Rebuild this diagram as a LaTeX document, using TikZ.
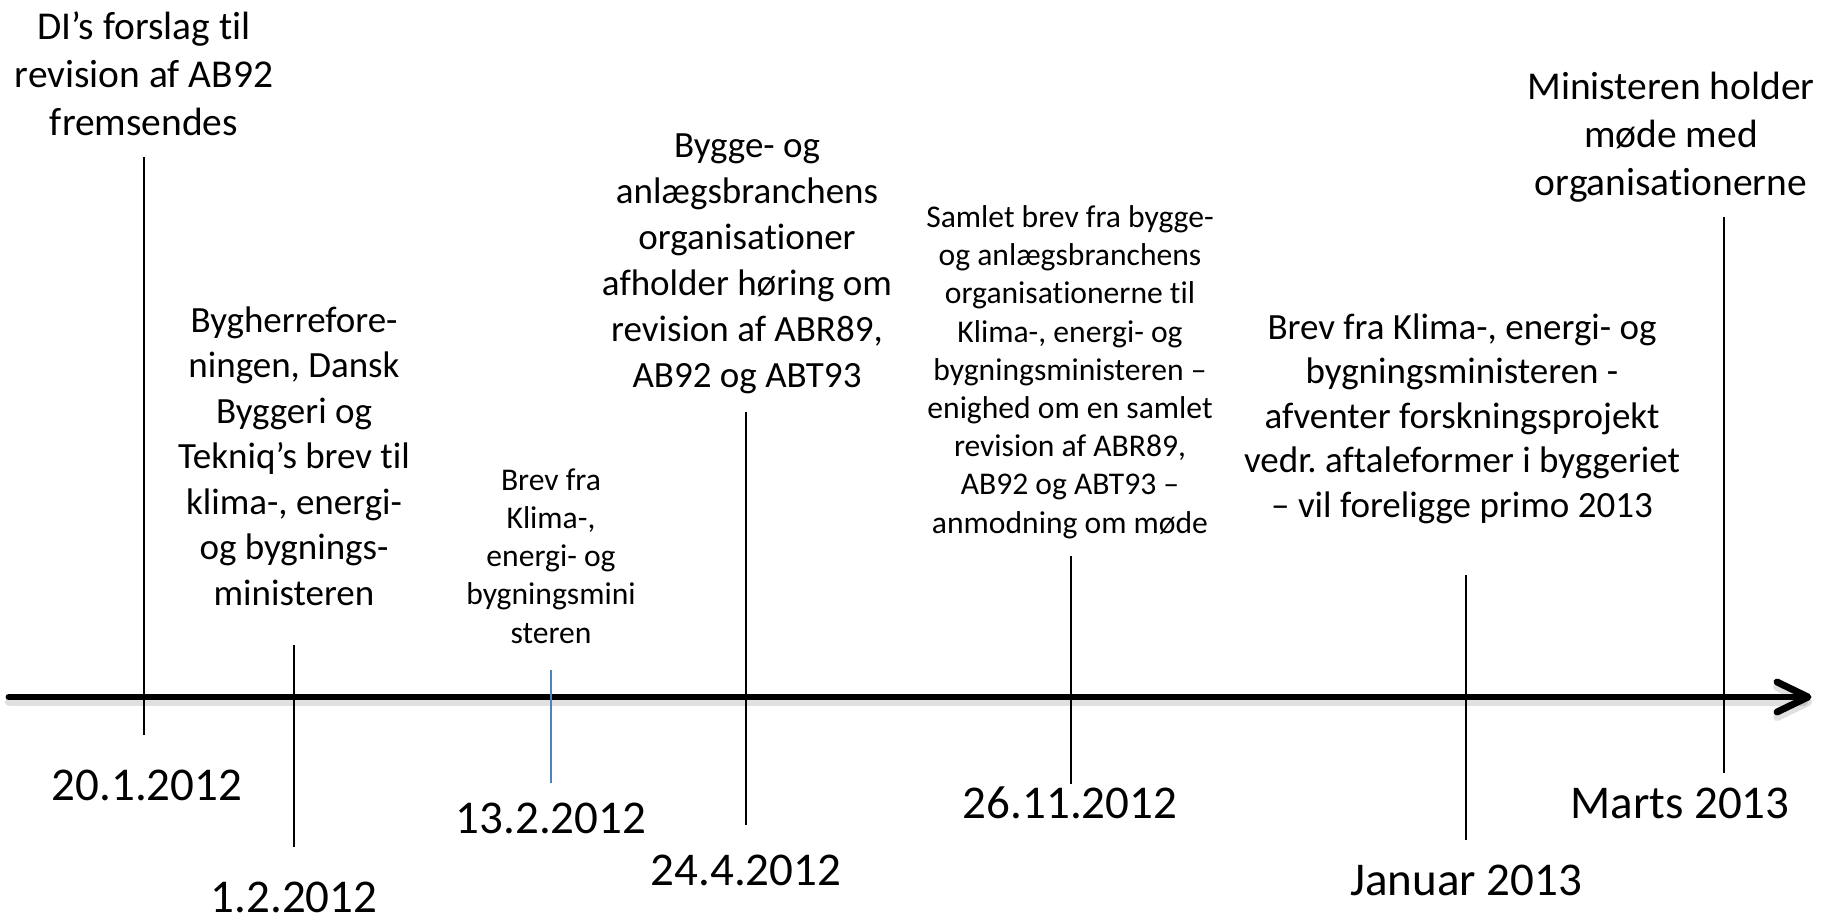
\documentclass[tikz,border=0pt]{standalone}
\usepackage{fontspec}
\setmainfont{Carlito}[Ligatures={TeX,NoCommon}]
\frenchspacing
\begin{document}
\begin{tikzpicture}[x=0.75pt,y=-0.75pt,
  txt/.style={inner sep=0pt, outer sep=0pt, anchor=base, align=center},
  big/.style={txt, font=\fontsize{29.6}{36}\selectfont},
  mid/.style={txt, font=\fontsize{27.75}{34.2}\selectfont},
  small/.style={txt, font=\fontsize{23.7}{28.65}\selectfont},
  datum/.style={txt, font=\fontsize{35.25}{42}\selectfont},
  tick/.style={line width=1.5pt, black},
  bluetick/.style={line width=1.5pt, color=tickblue},
  axis/.style={line width=5.2pt, black, line cap=round, line join=round},
  axisshadow/.style={line width=6pt, black, opacity=0.12, line cap=round, line join=round}
]
\definecolor{tickblue}{RGB}{79,129,189}
\useasboundingbox (0,0) rectangle (1822,917);
\fill[white] (0,0) rectangle (1822,917);

% axis
\coordinate (axstart) at (9,697);
\coordinate (axend) at (1804,697);
\coordinate (tip) at (1808,697);
\coordinate (armup) at (1777,682);
\coordinate (armdn) at (1777,712);
\coordinate (sstart) at (9,702);
\coordinate (send) at (1804,702);
\coordinate (stip) at (1808,702);
\coordinate (sarmup) at (1777,687);
\coordinate (sarmdn) at (1777,717);
\draw[axisshadow] (sstart) -- (send);
\draw[axisshadow] (sarmup) -- (stip) -- (sarmdn);
\draw[axis] (axstart) -- (axend);
\draw[axis] (armup) -- (tip) -- (armdn);

% ticks
\coordinate (t1a) at (144,157); \coordinate (t1b) at (144,735);
\coordinate (t2a) at (294,645); \coordinate (t2b) at (294,847);
\coordinate (t3a) at (551,670); \coordinate (t3b) at (551,783);
\coordinate (t4a) at (746,412); \coordinate (t4b) at (746,825);
\coordinate (t5a) at (1071,556); \coordinate (t5b) at (1071,784);
\coordinate (t6a) at (1466,575); \coordinate (t6b) at (1466,840);
\coordinate (t7a) at (1724,217); \coordinate (t7b) at (1724,773);
\draw[tick] (t1a) -- (t1b);
\draw[tick] (t2a) -- (t2b);
\draw[bluetick] (t3a) -- (t3b);
\draw[tick] (t4a) -- (t4b);
\draw[tick] (t5a) -- (t5b);
\draw[tick] (t6a) -- (t6b);
\draw[tick] (t7a) -- (t7b);

% event texts (anchor = baseline of last line)
\node[big] (evA) at (144,135) {DI’s forslag til\\revision af AB92\\fremsendes};
\node[mid, font=\fontsize{27.75}{34.1}\selectfont] (evB) at (294,605) {Bygherrefore-\\ningen, Dansk\\Byggeri og\\Tekniq’s brev til\\klima-, energi-\\og bygnings-\\ministeren};
\node[small] (evC) at (551,643) {Brev fra\\Klima-,\\energi- og\\bygningsmini\\steren};
\node[mid, font=\fontsize{27.75}{34.5}\selectfont] (evD) at (747,387) {Bygge- og\\anlægsbranchens\\organisationer\\afholder høring om\\revision af ABR89,\\AB92 og ABT93};
\node[small] (evE) at (1070,533) {Samlet brev fra bygge-\\og anlægsbranchens\\organisationerne til\\Klima-, energi- og\\bygningsministeren –\\enighed om en samlet\\revision af ABR89,\\AB92 og ABT93 –\\anmodning om møde};
\node[mid, font=\fontsize{27.75}{33.3}\selectfont] (evF) at (1462,517) {Brev fra Klima-, energi- og\\bygningsministeren -\\afventer forskningsprojekt\\vedr. aftaleformer i byggeriet\\– vil foreligge primo 2013};
\node[big] (evG) at (1671,195) {Ministeren holder\\møde med\\organisationerne};

% dates
\node[datum] (d1) at (147,800) {20.1.2012};
\node[datum] (d2) at (294,912) {1.2.2012};
\node[datum] (d3) at (551,833) {13.2.2012};
\node[datum] (d4) at (746,885) {24.4.2012};
\node[datum] (d5) at (1070,818) {26.11.2012};
\node[datum] (d6) at (1466,895) {Januar 2013};
\node[datum] (d7) at (1680,818) {Marts 2013};
\end{tikzpicture}
\end{document}
